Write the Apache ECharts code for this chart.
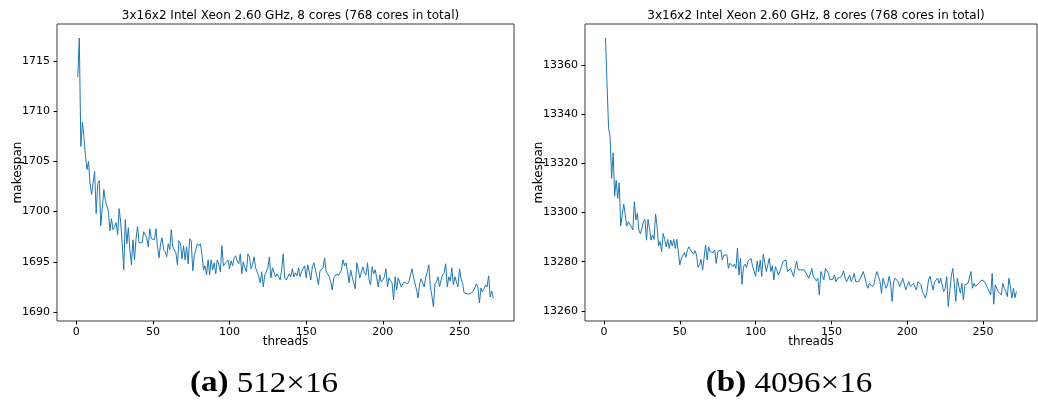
<!DOCTYPE html>
<html>
<head>
<meta charset="utf-8">
<script src="https://cdn.jsdelivr.net/npm/echarts@6/dist/echarts.min.js"></script>
<style>
  html, body { margin: 0; padding: 0; background: #fff; }
  #chart { width: 1038px; height: 403px; }
</style>
</head>
<body>
<div id="chart"></div>
<script>
// Makespan per thread count (threads = 1 .. 272), 512x16 problem
const leftMakespan = [
  1713.4, 1717.3, 1706.5, 1708.9, 1707.5, 1705.6, 1704.2, 1705.0, 1702.8, 1701.7,
  1701.8, 1704.0, 1699.8, 1702.8, 1703.1, 1698.6, 1698.7, 1702.2, 1701.1, 1701.1,
  1700.0, 1698.1, 1699.3, 1698.2, 1698.5, 1698.9, 1697.7, 1700.3, 1698.9, 1696.8,
  1694.2, 1699.2, 1696.8, 1698.4, 1696.2, 1694.7, 1697.2, 1695.2, 1697.3, 1698.5,
  1696.9, 1696.8, 1696.9, 1698.0, 1697.7, 1697.4, 1696.5, 1698.3, 1697.3, 1697.3,
  1697.2, 1698.3, 1696.5, 1695.4, 1696.8, 1697.4, 1696.2, 1696.0, 1695.5, 1696.8,
  1696.2, 1698.2, 1696.5, 1696.5, 1695.9, 1694.7, 1697.1, 1696.8, 1695.3, 1696.6,
  1695.2, 1696.5, 1694.8, 1697.3, 1697.1, 1694.1, 1695.6, 1695.5, 1696.8, 1696.6,
  1696.8, 1695.8, 1694.2, 1694.6, 1693.7, 1695.2, 1693.7, 1695.2, 1694.2, 1694.9,
  1693.8, 1695.2, 1694.7, 1694.0, 1696.6, 1694.6, 1694.5, 1695.0, 1695.2, 1694.3,
  1695.1, 1694.6, 1695.4, 1695.6, 1695.1, 1694.8, 1695.8, 1693.8, 1695.0, 1694.4,
  1694.0, 1695.8, 1695.5, 1694.3, 1694.7, 1695.5, 1694.4, 1694.0, 1693.6, 1692.9,
  1694.0, 1692.5, 1693.7, 1694.0, 1694.4, 1695.5, 1693.4, 1694.4, 1694.5, 1693.5,
  1693.8, 1693.8, 1693.2, 1694.2, 1695.8, 1693.4, 1693.2, 1693.5, 1693.8, 1693.5,
  1694.3, 1693.5, 1693.9, 1693.6, 1694.4, 1693.5, 1694.0, 1694.3, 1694.6, 1693.4,
  1694.7, 1694.0, 1693.2, 1694.5, 1694.9, 1694.2, 1693.5, 1692.7, 1694.1, 1694.2,
  1694.4, 1695.4, 1694.0, 1693.8, 1693.5, 1693.0, 1692.2, 1693.4, 1693.5, 1693.8,
  1693.6, 1693.5, 1694.2, 1695.2, 1694.6, 1694.9, 1694.0, 1692.9, 1694.2, 1693.5,
  1692.9, 1692.3, 1694.9, 1694.2, 1693.4, 1694.0, 1694.5, 1693.9, 1693.7, 1694.9,
  1693.2, 1692.7, 1694.5, 1693.8, 1694.2, 1693.4, 1692.5, 1693.7, 1693.0, 1693.2,
  1693.5, 1694.3, 1692.5, 1693.4, 1693.1, 1692.9, 1691.2, 1693.5, 1692.2, 1693.4,
  1693.5, 1692.5, 1692.8, 1693.0, 1692.9, 1692.8, 1693.0, 1693.0, 1694.3, 1693.5,
  1692.8, 1692.2, 1691.4, 1692.8, 1693.3, 1692.9, 1692.5, 1693.5, 1694.0, 1694.7,
  1692.5, 1691.6, 1690.5, 1692.8, 1693.0, 1693.5, 1692.5, 1693.2, 1693.7, 1693.9,
  1694.8, 1692.5, 1693.5, 1693.1, 1694.4, 1692.7, 1693.5, 1693.0, 1692.5, 1694.3,
  1693.3, 1692.9, 1691.9, 1691.9, 1691.8, 1691.9, 1691.8, 1691.9, 1692.1, 1692.4,
  1692.8, 1692.5, 1690.9, 1692.4, 1692.0, 1692.3, 1692.7, 1692.5, 1693.6, 1691.5,
  1692.1, 1691.4
];

// Makespan per thread count (threads = 1 .. 272), 4096x16 problem
const rightMakespan = [
  13371.0, 13352.0, 13334.5, 13330.8, 13313.9, 13324.3, 13306.7, 13313.2, 13305.8, 13312.1,
  13294.5, 13299.0, 13303.5, 13299.0, 13294.5, 13296.3, 13295.6, 13294.2, 13292.9, 13304.4,
  13297.0, 13299.7, 13292.9, 13291.3, 13290.9, 13296.3, 13297.2, 13288.8, 13297.2, 13293.6,
  13288.8, 13290.9, 13289.1, 13299.4, 13294.2, 13286.4, 13288.2, 13284.1, 13291.5, 13289.1,
  13286.1, 13289.1, 13285.4, 13288.8, 13286.4, 13289.1, 13285.4, 13289.1, 13289.5, 13278.7,
  13281.4, 13280.7, 13283.7, 13281.8, 13284.8, 13286.1, 13284.8, 13284.1, 13283.1, 13284.5,
  13282.7, 13277.7, 13278.7, 13281.0, 13276.6, 13276.0, 13286.8, 13280.7, 13286.1, 13284.1,
  13284.5, 13283.7, 13284.8, 13279.3, 13284.1, 13283.7, 13284.8, 13280.7, 13282.7, 13283.4,
  13282.8, 13277.3, 13279.4, 13278.7, 13278.0, 13279.0, 13277.3, 13285.5, 13274.6, 13281.4,
  13270.8, 13278.0, 13279.0, 13277.6, 13280.3, 13280.9, 13281.4, 13278.0, 13277.3, 13274.0,
  13280.3, 13276.0, 13280.7, 13274.0, 13283.0, 13279.8, 13276.0, 13278.7, 13281.4, 13276.0,
  13278.4, 13272.6, 13278.0, 13276.7, 13274.6, 13276.0, 13278.0, 13280.1, 13280.3, 13280.7,
  13276.0, 13276.7, 13277.3, 13278.0, 13274.0, 13277.3, 13280.3, 13276.7, 13276.7, 13276.7,
  13276.4, 13276.7, 13276.0, 13274.6, 13273.3, 13274.9, 13277.3, 13274.0, 13274.6, 13272.2,
  13273.3, 13266.5, 13276.0, 13274.4, 13272.6, 13277.3, 13278.0, 13275.3, 13272.6, 13272.6,
  13273.0, 13274.6, 13271.9, 13273.3, 13272.6, 13273.6, 13274.6, 13276.3, 13273.3, 13271.9,
  13271.2, 13274.6, 13271.9, 13273.3, 13275.3, 13271.9, 13271.2, 13271.9, 13272.6, 13274.6,
  13276.0, 13276.0, 13271.2, 13269.2, 13271.2, 13271.9, 13269.9, 13270.8, 13274.0, 13276.0,
  13274.0, 13271.9, 13267.2, 13273.3, 13272.6, 13269.2, 13270.6, 13274.0, 13271.2, 13263.8,
  13271.9, 13273.3, 13272.6, 13271.9, 13269.9, 13269.2, 13273.3, 13273.6, 13268.5, 13270.3,
  13271.9, 13269.9, 13269.2, 13271.2, 13269.9, 13268.5, 13271.9, 13272.6, 13270.6, 13267.9,
  13266.5, 13265.2, 13267.9, 13272.6, 13274.0, 13271.2, 13268.5, 13271.9, 13272.6, 13273.3,
  13271.2, 13273.3, 13270.6, 13267.9, 13269.2, 13274.0, 13261.8, 13267.9, 13274.0, 13277.3,
  13271.2, 13263.8, 13273.3, 13269.9, 13267.2, 13271.2, 13264.5, 13270.6, 13270.8, 13271.2,
  13270.6, 13276.0, 13269.2, 13271.2, 13269.9, 13270.6, 13271.2, 13271.2, 13272.6, 13272.2,
  13271.9, 13271.2, 13269.2, 13267.9, 13266.5, 13275.3, 13262.7, 13270.6, 13271.2, 13267.9,
  13267.2, 13266.5, 13271.2, 13269.2, 13267.9, 13265.8, 13273.3, 13269.9, 13265.2, 13269.2,
  13265.4, 13267.9
];

const xTicks = [0, 50, 100, 150, 200, 250];
const leftYTicks = [1690, 1695, 1700, 1705, 1710, 1715];
const rightYTicks = [13260, 13280, 13300, 13320, 13340, 13360];
const panelTitle = '3x16x2 Intel Xeon 2.60 GHz, 8 cores (768 cores in total)';
const xName = 'threads';
const yName = 'makespan';
const captionTags = ['(a)', '(b)'];
const captionSizes = ['512×16', '4096×16'];

const SANS = 'DejaVu Sans';
const SERIF = 'Liberation Serif';
const LINE_BLUE = '#1f77b4';

// [threads, makespan] pairs; thread counts start at 1
function toPoints(values) {
  return values.map((v, i) => [i + 1, v]);
}

const panels = [
  { grid: { left: 57, top: 24, width: 457, height: 297 },
    yMin: 1689.1, yMax: 1718.7, yTicks: leftYTicks, values: leftMakespan,
    yNameX: 18, caption: { x: 264, tag: captionTags[0], size: captionSizes[0] } },
  { grid: { left: 585, top: 24, width: 452, height: 297 },
    yMin: 13255.9, yMax: 13376.7, yTicks: rightYTicks, values: rightMakespan,
    yNameX: 539, caption: { x: 789, tag: captionTags[1], size: captionSizes[1] } }
];

const tickStyle = { show: true, inside: false, length: 3.5, lineStyle: { color: '#000', width: 1 } };
const labelStyle = { fontFamily: SANS, fontSize: 11, color: '#000', formatter: v => String(v) };

const option = {
  animation: false,
  backgroundColor: '#fff',
  title: panels.map(p => ({
    text: panelTitle,
    left: p.grid.left + p.grid.width / 2,
    top: 5,
    textAlign: 'center',
    textStyle: { fontFamily: SANS, fontSize: 12, fontWeight: 'normal', color: '#000' }
  })),
  grid: panels.map(p => Object.assign({
    show: true, borderColor: '#3a3a3a', borderWidth: 1, backgroundColor: 'transparent'
  }, p.grid)),
  xAxis: panels.map((p, i) => ({
    gridIndex: i,
    type: 'value',
    min: -12.55,
    max: 285.55,
    axisLine: { show: false, onZero: false },
    splitLine: { show: false },
    axisTick: Object.assign({ customValues: xTicks }, tickStyle),
    axisLabel: Object.assign({ customValues: xTicks, margin: 6 }, labelStyle)
  })),
  yAxis: panels.map((p, i) => ({
    gridIndex: i,
    type: 'value',
    min: p.yMin,
    max: p.yMax,
    axisLine: { show: false, onZero: false },
    splitLine: { show: false },
    axisTick: Object.assign({ customValues: p.yTicks }, tickStyle),
    axisLabel: Object.assign({ customValues: p.yTicks, margin: 7 }, labelStyle)
  })),
  series: panels.map((p, i) => ({
    type: 'line',
    xAxisIndex: i,
    yAxisIndex: i,
    data: toPoints(p.values),
    showSymbol: false,
    symbol: 'none',
    lineStyle: { color: LINE_BLUE, width: 1 },
    itemStyle: { color: LINE_BLUE }
  })),
  graphic: panels.flatMap(p => [
    { type: 'text', x: p.grid.left + p.grid.width / 2, y: 342,
      style: { text: xName, fontFamily: SANS, fontSize: 12, fill: '#000',
               align: 'center', verticalAlign: 'middle' } },
    { type: 'text', x: p.yNameX, y: p.grid.top + p.grid.height / 2, rotation: Math.PI / 2,
      style: { text: yName, fontFamily: SANS, fontSize: 12, fill: '#000',
               align: 'center', verticalAlign: 'middle' } },
    // sub-figure caption, serif face stretched slightly wider
    { type: 'text', x: p.caption.x, y: 384, scaleX: 1.14,
      style: { text: '{b|' + p.caption.tag + '} ' + p.caption.size,
               fontFamily: SERIF, fontSize: 29, fill: '#000',
               align: 'center', verticalAlign: 'middle',
               rich: { b: { fontFamily: SERIF, fontSize: 29, fontWeight: 'bold', fill: '#000' } } } }
  ])
};

const chart = echarts.init(document.getElementById('chart'), null, { renderer: 'canvas' });
chart.setOption(option);
</script>
</body>
</html>
